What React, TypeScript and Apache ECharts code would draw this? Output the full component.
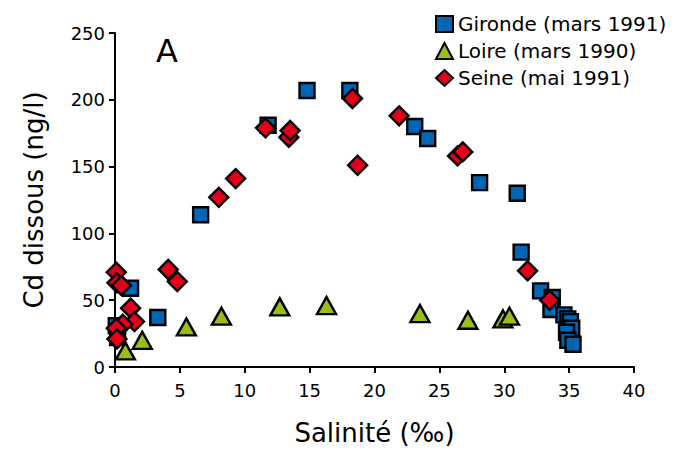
import React, { useEffect, useRef } from "react";
import * as echarts from "echarts";

const xTicks = [0, 5, 10, 15, 20, 25, 30, 35, 40];
const yTicks = [0, 50, 100, 150, 200, 250];

const girondeX = [0.1, 0.2, 1.2, 3.3, 6.6, 11.8, 14.8, 18.1, 23.1, 24.1, 28.1, 31.0, 31.3, 32.8, 33.7, 33.6, 34.6, 34.9, 35.1, 35.2, 34.8, 34.9, 35.3];
const girondeY = [31, 22, 59, 37, 114, 181, 207, 207, 180, 171, 138, 130, 86, 57, 52, 43, 39, 36, 34, 29, 26, 20, 17];

const loireX = [0.8, 2.1, 5.5, 8.2, 12.7, 16.3, 23.5, 27.2, 29.9, 30.4];
const loireY = [12, 20, 30, 38, 45, 46, 40, 35, 36, 38];

const seineX = [0.1, 0.15, 0.5, 1.2, 1.5, 0.6, 0.1, 0.15, 4.1, 4.8, 8.0, 9.3, 11.6, 13.4, 13.5, 18.3, 18.7, 21.9, 26.4, 26.8, 31.8, 33.5];
const seineY = [71, 63, 61, 44, 34, 32, 29, 21, 73, 64, 127, 141, 179, 172, 177, 201, 151, 188, 158, 161, 72, 50];

const seriesNames = ["Gironde (mars 1991)", "Loire (mars 1990)", "Seine (mai 1991)"];

const zip = (xs: number[], ys: number[]) => xs.map((x, i) => [x, ys[i]]);

export default function App() {
  const ref = useRef<HTMLDivElement>(null);
  useEffect(() => {
    if (!ref.current) return;
    const chart = echarts.init(ref.current, null, { renderer: "svg" });
    const font = "DejaVu Sans";
    const border = { borderColor: "#000", borderWidth: 2.4, opacity: 1 };
    chart.setOption({
      animation: false,
      backgroundColor: "#fff",
      textStyle: { fontFamily: font, color: "#000" },
      grid: { left: 115, right: 53, top: 33, bottom: 84 },
      legend: {
        orient: "vertical",
        left: 430,
        top: 9,
        itemGap: 7,
        itemWidth: 17,
        itemHeight: 16,
        textStyle: { fontFamily: font, fontSize: 20, color: "#000" },
        data: seriesNames,
      },
      xAxis: {
        type: "value",
        min: xTicks[0],
        max: xTicks[xTicks.length - 1],
        interval: 5,
        name: "Salinité (‰)",
        nameLocation: "middle",
        nameGap: 53,
        nameTextStyle: { fontSize: 26, color: "#000", fontFamily: font },
        axisLine: { show: true, lineStyle: { color: "#000", width: 2 } },
        axisTick: { show: true, length: 6, lineStyle: { color: "#000", width: 2 } },
        axisLabel: { fontSize: 18, color: "#000", margin: 14, fontFamily: font },
        splitLine: { show: false },
      },
      yAxis: {
        type: "value",
        min: yTicks[0],
        max: yTicks[yTicks.length - 1],
        interval: 50,
        name: "Cd dissous (ng/l)",
        nameLocation: "middle",
        nameGap: 68,
        nameTextStyle: { fontSize: 26, color: "#000", fontFamily: font },
        axisLine: { show: true, lineStyle: { color: "#000", width: 2 } },
        axisTick: { show: true, length: 6, lineStyle: { color: "#000", width: 2 } },
        axisLabel: { fontSize: 18, color: "#000", margin: 10, fontFamily: font },
        splitLine: { show: false },
      },
      graphic: [
        {
          type: "text",
          left: 156,
          top: 35,
          style: { text: "A", fontSize: 32, fontFamily: font, fill: "#000" },
        },
      ],
      series: [
        {
          name: seriesNames[0],
          type: "scatter",
          symbol: "rect",
          symbolSize: 15,
          itemStyle: { color: "#0066b3", ...border },
          data: zip(girondeX, girondeY),
          z: 2,
        },
        {
          name: seriesNames[1],
          type: "scatter",
          symbol: "triangle",
          symbolSize: [19, 17],
          itemStyle: { color: "#99bf17", ...border },
          data: zip(loireX, loireY),
          z: 3,
        },
        {
          name: seriesNames[2],
          type: "scatter",
          symbol: "diamond",
          symbolSize: 19,
          itemStyle: { color: "#e3001b", ...border },
          data: zip(seineX, seineY),
          z: 4,
        },
      ],
    });
    return () => chart.dispose();
  }, []);
  return (
    <div
      ref={ref}
      style={{ position: "fixed", left: 0, top: 0, width: 687, height: 451, background: "#fff" }}
    />
  );
}
